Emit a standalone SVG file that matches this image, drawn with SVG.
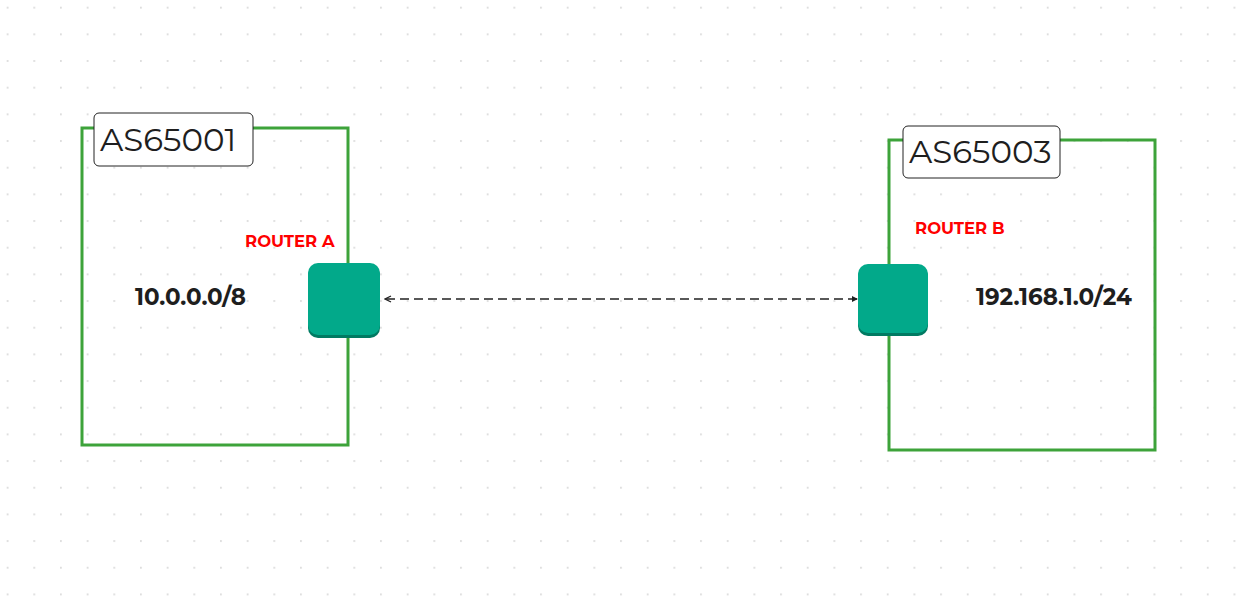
<svg xmlns="http://www.w3.org/2000/svg" width="1255" height="610" viewBox="0 0 1255 610">
<defs>
<pattern id="dots" x="6.7" y="6.7" width="26.67" height="26.67" patternUnits="userSpaceOnUse"><circle cx="0.9" cy="0.9" r="0.9" fill="#cfcfcf"/></pattern>
<marker id="ah" markerWidth="8" markerHeight="8" refX="7" refY="4" orient="auto" markerUnits="userSpaceOnUse"><path d="M1,1 L7,4 L1,7" fill="none" stroke="#222" stroke-width="1.3"/></marker>
<marker id="dt" markerWidth="6" markerHeight="6" refX="1" refY="3" orient="auto" markerUnits="userSpaceOnUse"><path d="M6,0 L0,3 L6,6 Z" fill="#222"/></marker>
</defs>
<style>
.as{fill:none;stroke:#3da33a;stroke-width:3}
.lbl{fill:#fff;stroke:#222;stroke-width:1}
.lt{font-family:Montserrat,"Open Sans","Liberation Sans",sans-serif;font-size:32.5px;fill:#1e1e1e}
.rt{font-family:Montserrat,"Open Sans","Liberation Sans",sans-serif;font-size:16.5px;font-weight:bold;fill:#ff0000}
.net{font-family:Montserrat,"Open Sans","Liberation Sans",sans-serif;font-size:23px;font-weight:bold;fill:#1e1e1e}
.rs{fill:#02a98a}
.rd{fill:#017a62}
</style>
<rect width="1255" height="610" fill="#fff"/>
<rect width="1255" height="610" fill="url(#dots)"/>
<g id="as65001">
<rect class="as" x="82" y="128" width="266" height="317"/>
<rect class="lbl" x="94" y="113" width="159" height="53" rx="5"/>
<text class="lt" x="100" y="151">AS65001</text>
<text class="net" x="135" y="305">10.0.0.0/8</text>
</g>
<g id="routerA">
<text class="rt" x="245" y="247">ROUTER A</text>
<rect class="rd" x="308" y="265" width="72" height="73" rx="10"/>
<rect class="rs" x="308" y="263" width="72" height="72" rx="10"/>
</g>
<g id="as65003">
<rect class="as" x="889" y="140" width="266" height="310"/>
<rect class="lbl" x="903" y="126" width="157" height="52" rx="5"/>
<text class="lt" x="909" y="163">AS65003</text>
<text class="net" x="976" y="305">192.168.1.0/24</text>
</g>
<g id="routerB">
<text class="rt" x="915" y="234">ROUTER B</text>
<rect class="rd" x="858" y="266" width="70" height="70" rx="10"/>
<rect class="rs" x="858" y="264" width="70" height="69" rx="10"/>
</g>
<g id="connectors">
<line x1="857" y1="299" x2="385" y2="299" stroke="#222" stroke-width="1.3" stroke-dasharray="9,5" marker-start="url(#dt)" marker-end="url(#ah)"/>
</g>
</svg>
